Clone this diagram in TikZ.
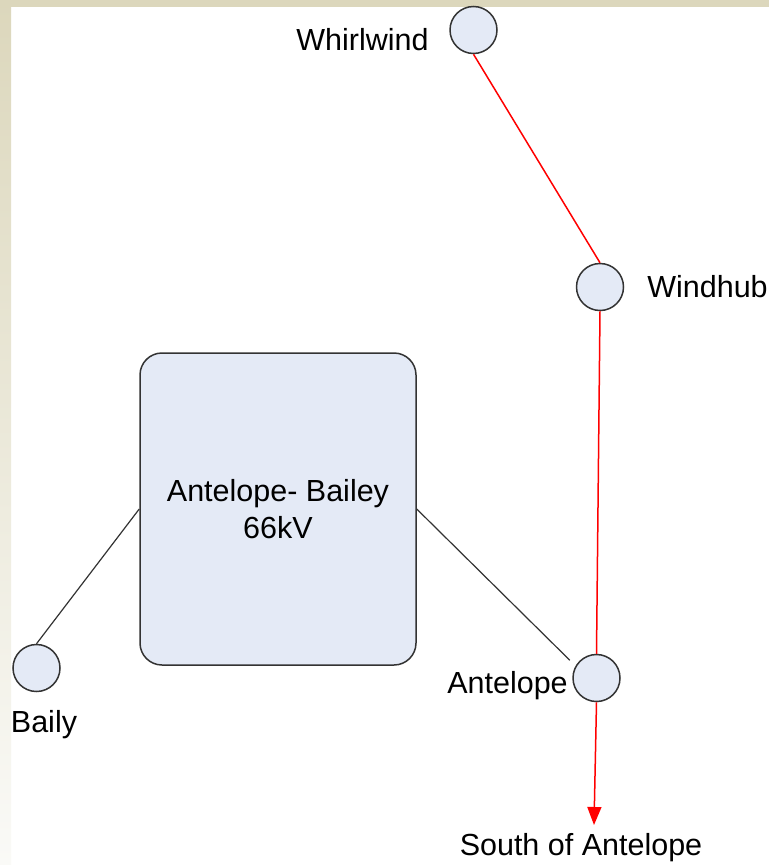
\documentclass[tikz,border=0pt]{standalone}
\usepackage{fontspec}
\setmainfont{Liberation Sans}
\usetikzlibrary{arrows.meta}
\definecolor{busfill}{HTML}{E4EAF6}
\definecolor{busdraw}{HTML}{333333}
\definecolor{edgebeige}{HTML}{DCD7BC}
\definecolor{edgepale}{HTML}{FAFAF7}

\begin{document}
\begin{tikzpicture}[x=1pt, y=-1pt,
  font=\fontsize{30.5}{37}\selectfont,
  bus/.style={circle, draw=busdraw, line width=1.5pt, fill=busfill, minimum size=47pt, inner sep=0pt},
  busname/.style={anchor=base, inner sep=0pt},
  redline/.style={draw=red, line width=1.5pt},
  tieline/.style={draw=busdraw, line width=1.2pt}]
\useasboundingbox (0,0) rectangle (769,865);
\fill[white] (0,0) rectangle (769,865);
\shade[top color=edgebeige, bottom color=edgepale] (0,0) rectangle (11,865);
\fill[edgebeige] (0,0) rectangle (769,7);

\node[bus] (whirlwind) at (473.5,30) {};
\node[bus] (windhub) at (600,287) {};
\node[bus] (antelope) at (596.5,678) {};
\node[bus] (baily) at (36.5,668) {};
\node[draw=busdraw, line width=1.5pt, fill=busfill, rounded corners=22pt, minimum width=276pt, minimum height=312pt, align=center] (box) at (278,509) {Antelope- Bailey\\66kV};
\coordinate (south) at (594,825);

\node[busname] (whirlwindname) at (362.5,50) {Whirlwind};
\node[busname] (windhubname) at (707.5,297) {Windhub};
\node[busname] (antelopename) at (507.5,693) {Antelope};
\node[busname] (bailyname) at (44,732) {Baily};
\node[busname] (southname) at (581,855) {South of Antelope};

\draw[redline] (whirlwind.south) -- (windhub.north);
\draw[redline] (windhub.south) -- (antelope.north);
\draw[redline, -{Triangle[length=18pt, width=14pt]}] (antelope.south) -- (south);
\draw[tieline] (box.west) -- (baily.north);
\draw[tieline, shorten >=8pt] (box.east) -- (antelope.150);
\end{tikzpicture}
\end{document}
